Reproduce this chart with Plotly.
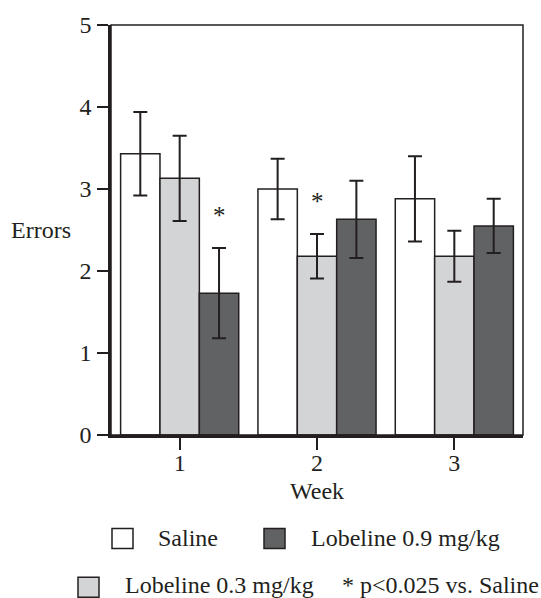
import plotly.graph_objects as go

weeks = [1, 2, 3]
tick_labels = ["1", "2", "3"]
saline = [3.43, 3.00, 2.88]
saline_err = [0.51, 0.37, 0.52]
lob03 = [3.13, 2.18, 2.18]
lob03_err = [0.52, 0.27, 0.31]
lob09 = [1.73, 2.63, 2.55]
lob09_err = [0.55, 0.47, 0.33]
# significance markers: (week, series index)
sig = [(1, 2), (2, 1)]

FONT = "'Liberation Serif', 'Times New Roman', Times, serif"
INK = "#231f20"
COLORS = ["#ffffff", "#d3d4d6", "#616264"]
NAMES = ["Saline", "Lobeline 0.3 mg/kg", "Lobeline 0.9 mg/kg"]
series = [saline, lob03, lob09]
errs = [saline_err, lob03_err, lob09_err]

BARGAP = 0.14
W, H = 541, 598
L, R, T, B = 111, 18, 23, 163
PW, PH = W - L - R, H - T - B


def px(x):
    return (x - L) / PW


def py(y):
    return (H - B - y) / PH


fig = go.Figure()
for vals, e, c, n in zip(series, errs, COLORS, NAMES):
    fig.add_trace(go.Bar(
        x=weeks, y=vals, name=n,
        marker=dict(color=c, line=dict(color=INK, width=1.5)),
        error_y=dict(type="data", array=e, visible=True, color=INK,
                     thickness=2, width=7),
        showlegend=False,
    ))

bw = (1 - BARGAP) / 3
annotations = []
for wk, si in sig:
    i = weeks.index(wk)
    annotations.append(dict(
        x=wk + (si - 1) * bw, y=series[si][i] + errs[si][i], xref="x", yref="y",
        text="*", showarrow=False, yanchor="middle", yshift=33,
        font=dict(family=FONT, size=25, color=INK)))

annotations.append(dict(x=px(73), y=2.5, xref="paper", yref="y", text="Errors",
                        showarrow=False, xanchor="right", yanchor="middle",
                        font=dict(family=FONT, size=24, color=INK)))
annotations.append(dict(x=2, y=py(491), xref="x", yref="paper", text="Week",
                        showarrow=False, xanchor="center", yanchor="middle",
                        font=dict(family=FONT, size=24, color=INK)))

# legend
shapes = [dict(type="rect", xref="paper", yref="paper", x0=0, x1=1, y0=0, y1=1,
               line=dict(color=INK, width=1.5))]
legend_items = [
    (COLORS[0], 112, 529, NAMES[0], 156, 538),
    (COLORS[2], 264, 529, NAMES[2], 309, 538),
    (COLORS[1], 78, 578, NAMES[1], 123, 586),
]
for col, sx, sy, txt, tx, ty in legend_items:
    shapes.append(dict(type="rect", xref="paper", yref="paper",
                       x0=px(sx), x1=px(sx + 21), y0=py(sy + 20), y1=py(sy),
                       fillcolor=col, line=dict(color=INK, width=1.5)))
    annotations.append(dict(x=px(tx), y=py(ty), xref="paper", yref="paper",
                            text=txt, showarrow=False, xanchor="left",
                            yanchor="middle",
                            font=dict(family=FONT, size=24, color=INK)))
annotations.append(dict(x=px(340), y=py(586), xref="paper", yref="paper",
                        text="* p<0.025 vs. Saline", showarrow=False,
                        xanchor="left", yanchor="middle",
                        font=dict(family=FONT, size=24, color=INK)))

fig.update_layout(
    width=W, height=H,
    margin=dict(l=L, r=R, t=T, b=B, pad=0),
    paper_bgcolor="white", plot_bgcolor="white",
    barmode="group", bargap=BARGAP, bargroupgap=0,
    font=dict(family=FONT, size=22, color=INK),
    annotations=annotations, shapes=shapes,
    xaxis=dict(range=[0.5, 3.5], tickvals=weeks, ticktext=tick_labels,
               showgrid=False, zeroline=False, showline=True, linecolor=INK,
               linewidth=2.5, ticks="outside", ticklen=12, tickwidth=2,
               tickcolor=INK, ticklabelstandoff=-8,
               tickfont=dict(family=FONT, size=24, color=INK)),
    yaxis=dict(range=[0, 5], tickvals=[0, 1, 2, 3, 4, 5], showgrid=False,
               zeroline=False, showline=True, linecolor=INK, linewidth=2.5,
               ticks="outside", ticklen=11, tickwidth=2, tickcolor=INK,
               ticklabelstandoff=1,
               tickfont=dict(family=FONT, size=24, color=INK)),
)

fig.write_html("out.html", config={"displayModeBar": False},
               post_script="document.body.style.margin='0px';")
